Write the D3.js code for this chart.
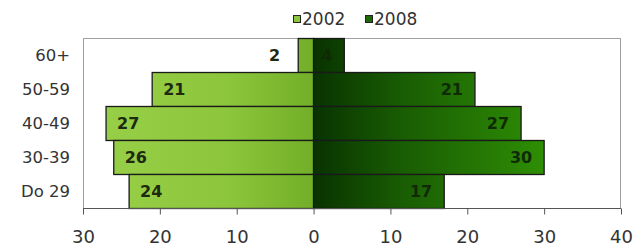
<!DOCTYPE html>
<html>
<head>
<meta charset="utf-8">
<script src="https://cdnjs.cloudflare.com/ajax/libs/d3/7.8.5/d3.min.js"></script>
<style>
  body { margin: 0; background: #fff; }
  svg { font-family: "DejaVu Sans", sans-serif; }
</style>
</head>
<body>
<div id="chart"></div>
<script>
// data
var categories = ['60+', '50-59', '40-49', '30-39', 'Do 29'];
var values2002 = [2, 21, 27, 26, 24];
var values2008 = [4, 21, 27, 30, 17];
var seriesNames = ['2002', '2008'];
var tickValues = [-30, -20, -10, 0, 10, 20, 30, 40];

var W = 634, H = 248;
var svg = d3.select('#chart').append('svg')
    .attr('width', W)
    .attr('height', H);

var x = d3.scaleLinear().domain([-30, 40]).range([83, 621]);
var y = d3.scaleBand().domain(categories).range([38.5, 208.5]).padding(0);

var defs = svg.append('defs');
// gradients stretched across each half of the plot
var g1 = defs.append('linearGradient')
    .attr('id', 'g2002')
    .attr('gradientUnits', 'userSpaceOnUse')
    .attr('x1', x(-28)).attr('x2', x(0)).attr('y1', 0).attr('y2', 0);
g1.append('stop').attr('offset', '0%').attr('stop-color', '#98cf48');
g1.append('stop').attr('offset', '60%').attr('stop-color', '#8cc63c');
g1.append('stop').attr('offset', '100%').attr('stop-color', '#72ae28');

var g2 = defs.append('linearGradient')
    .attr('id', 'g2008')
    .attr('gradientUnits', 'userSpaceOnUse')
    .attr('x1', x(0)).attr('x2', x(30)).attr('y1', 0).attr('y2', 0);
g2.append('stop').attr('offset', '0%').attr('stop-color', '#083300');
g2.append('stop').attr('offset', '40%').attr('stop-color', '#1a5e04');
g2.append('stop').attr('offset', '100%').attr('stop-color', '#2e8e04');

// plot frame
svg.append('rect')
    .attr('x', x(-30) + 0.5).attr('y', 38.5)
    .attr('width', x(40) - x(-30) - 1).attr('height', 170)
    .attr('fill', 'none')
    .attr('stroke', '#a0a0a0');

// 2002 bars (left)
svg.selectAll('.b2002').data(values2002).enter().append('rect')
    .attr('class', 'b2002')
    .attr('x', function(d) { return x(-d); })
    .attr('y', function(d, i) { return y(categories[i]); })
    .attr('width', function(d) { return x(0) - x(-d); })
    .attr('height', y.bandwidth())
    .attr('fill', 'url(#g2002)')
    .attr('stroke', '#1a1a1a')
    .attr('stroke-width', 1.3);

// 2008 bars (right)
svg.selectAll('.b2008').data(values2008).enter().append('rect')
    .attr('class', 'b2008')
    .attr('x', x(0))
    .attr('y', function(d, i) { return y(categories[i]); })
    .attr('width', function(d) { return x(d) - x(0); })
    .attr('height', y.bandwidth())
    .attr('fill', 'url(#g2008)')
    .attr('stroke', '#1a1a1a')
    .attr('stroke-width', 1.3);

// value labels
svg.selectAll('.l2002').data(values2002).enter().append('text')
    .attr('x', function(d) { return d < 5 ? x(-d) - 18 : x(-d) + 11; })
    .attr('y', function(d, i) { return y(categories[i]) + y.bandwidth() / 2; })
    .attr('dy', '.36em')
    .attr('text-anchor', function(d) { return d < 5 ? 'end' : 'start'; })
    .style('font-size', '16px')
    .style('font-weight', 'bold')
    .style('fill', '#1d2a10')
    .text(function(d) { return d; });

svg.selectAll('.l2008').data(values2008).enter().append('text')
    .attr('x', function(d) { return x(d) - 12; })
    .attr('y', function(d, i) { return y(categories[i]) + y.bandwidth() / 2; })
    .attr('dy', '.36em')
    .attr('text-anchor', 'end')
    .style('font-size', '16px')
    .style('font-weight', 'bold')
    .style('fill', '#0f2a05')
    .text(function(d) { return d; });

// category labels
svg.selectAll('.cat').data(categories).enter().append('text')
    .attr('x', 70)
    .attr('y', function(d) { return y(d) + y.bandwidth() / 2; })
    .attr('dy', '.36em')
    .attr('text-anchor', 'end')
    .style('font-size', '16.5px')
    .style('fill', '#333')
    .text(function(d) { return d; });

// x axis
var xAxis = d3.axisBottom(x)
    .tickValues(tickValues)
    .tickSize(6)
    .tickPadding(16)
    .tickFormat(function(d) { return Math.abs(d); });

var ax = svg.append('g')
    .attr('transform', 'translate(0,208.5)')
    .call(xAxis);
ax.select('.domain').attr('stroke', '#555').attr('d', 'M' + x(-30) + ',0H' + x(40));
ax.selectAll('.tick line').attr('stroke', '#555');
ax.selectAll('.tick text')
    .style('font-size', '18px')
    .style('font-family', '"DejaVu Sans", sans-serif')
    .style('fill', '#333');

// legend
var legend = svg.append('g').attr('transform', 'translate(293,10)');
var legX = [0, 72];
var legFill = ['#8cc63c', '#1f6a08'];
seriesNames.forEach(function(name, i) {
    legend.append('rect')
        .attr('x', legX[i] + 0.5).attr('y', 5.5)
        .attr('width', 7).attr('height', 7)
        .attr('fill', legFill[i])
        .attr('stroke', '#222');
    legend.append('text')
        .attr('x', legX[i] + 9).attr('y', 9)
        .attr('dy', '.36em')
        .style('font-size', '17px')
        .style('fill', '#333')
        .text(name);
});
</script>
</body>
</html>
